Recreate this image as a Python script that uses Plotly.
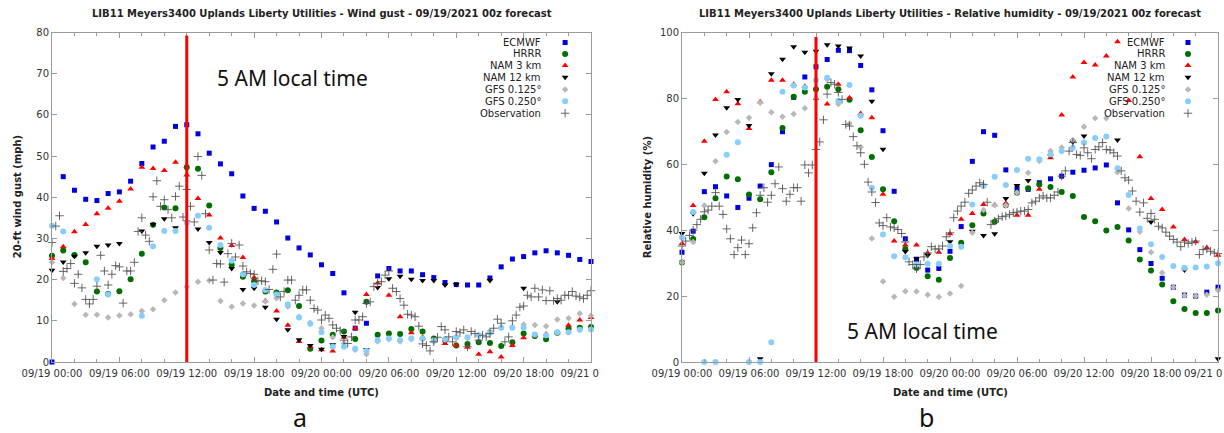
import plotly.graph_objects as go
import pandas as pd

# ---------------- data ----------------
start = "2021-09-19 00:00"
model_names = ["ECMWF", "HRRR", "NAM 3 km", "NAM 12 km", "GFS 0.125°", "GFS 0.250°"]

gust_ecmwf = [0, 45.0, 41.7, 39.5, 39.2, 40.9, 41.3, 43.9, 48.2, 52.2, 53.6, 57.2, 57.6, 55.4, 50.7, 48.1, 45.7,
              40.3, 37.3, 36.6, 34.0, 30.1, 27.7, 26.0, 23.6, 21.5, 16.8, 8.2, 9.4, 20.9, 22.7, 22.1, 22.1,
              21.2, 20.5, 19.3, 18.8, 18.7, 18.7, 20.4, 23.1, 25.0, 25.6, 26.5, 27.0, 26.5, 25.9, 24.9, 24.4]
gust_hrrr = [25.8, 27.1, 26.0, 24.2, 17.1, 16.5, 17.2, 20.1, 26.3, 33.3, 37.5, 37.3, 47.3, 46.9, 38.0, 27.7, 23.6,
             20.7, 19.6, 17.1, 16.9, 17.4, 13.6, 3.2, 5.2, 6.6, 7.4, 5.6, 14.6, 6.6, 6.9, 6.8, 8.0,
             7.4, 5.7, 5.3, 4.0, 4.4, 4.8, 4.6, 3.9, 4.8, 6.9, 6.3, 5.5, 7.1, 8.1, 8.3, 8.5]
gust_nam3 = [25.1, 28.0, 31.6, 33.4, 36.0, 37.3, 39.0, 42.0, 47.3, 47.0, 46.5, 48.5, 45.4, 39.7, 35.7, 30.1, 28.3,
             25.4, 20.5, 14.9, 12.4, 8.9, 5.0, 3.7, 3.0, 2.7, 6.0, 8.2, 16.4, 19.2, 16.2, 11.0, 7.1,
             6.0, 5.1, 4.5, 4.0, 3.6, 1.9, 2.5, 1.2, 4.0, 5.9, 6.5, 6.8, 7.1, 8.9, 10.2, 10.8]
gust_nam12 = [22.3, 24.3, 25.7, 26.5, 28.1, 28.4, 28.8, None, 31.8, 33.4, 34.8, 32.6, 34.0, 32.3, 29.0, 26.6, 22.7,
              17.6, 17.9, 13.3, 10.4, 7.8, 5.4, 4.0, 3.1, 4.2, 6.2, 12.1, 3.0, 18.1, 20.2, 20.8, 20.1,
              19.8, 19.8, 18.7, 18.8, None, None, 19.8, None, None, 17.9, None, None, 14.6, None, None, None]
gust_gfs0125 = [24.2, 20.4, 14.1, 11.5, 11.5, 10.8, 11.3, 11.6, 12.4, 12.8, 15.0, 16.9, 18.3, 19.5, 19.8, 14.8, 13.4,
                14.2, 13.7, 14.7, 15.5, 13.5, 11.0, 9.5, 8.2, 6.0, 4.5, 3.0, 1.9, 5.0, 5.5, 5.0, 5.5,
                5.5, 5.0, 5.5, 5.8, 5.8, 6.5, 7.5, 8.3, 8.5, 9.1, 9.0, 8.7, 10.3, 10.6, 11.8, 11.2]
gust_gfs0250 = [33.1, 31.7, None, None, 20.1, 16.4, None, None, 11.2, 28.1, 31.8, 31.8, 33.8, 35.5, 32.6, 28.4, 24.6,
                21.3, 18.7, 17.5, 16.4, 14.0, 10.8, 9.3, 7.2, 3.7, 3.7, 3.2, 2.7, 5.3, 5.7, 5.3, 5.7,
                5.7, 5.3, 5.5, 6.0, 6.0, 6.5, 7.1, 8.3, 8.3, 8.3, 6.7, 6.5, 7.2, 7.2, 7.8, 7.9]
gust_obs = [29.0, 33.0, 35.5, 22.0, 22.7, 23.9, 19.1, 21.3, 18.0, 15.2, 14.1, 15.2, 18.4, 25.9, 22.1,
            18.7, 21.3, 23.4, 23.1, 14.3, 22.1, 22.1, 24.2, 31.7, 35.0, 30.8, 29.3, 40.1, 44.0, 37.8,
            39.4, 37.0, 35.0, 40.2, 42.7, 35.2, 41.9, 37.8, 34.0, 49.9, 45.3, 36.0, 27.2, 19.9, 23.9,
            23.8, 19.4, 26.3, 28.8, 25.5, 28.4, 23.3, 21.9, 21.5, 21.3, 19.7, 19.7, 19.5, 17.6, 22.5,
            26.2, 15.8, 17.1, 19.9, 19.9, 15.0, 16.2, 17.5, 17.5, 15.0, 13.0, 12.6, 10.2, 11.4, 10.6,
            9.0, 8.2, 7.6, 5.3, 4.5, 6.1, 10.2, 10.2, 11.0, 14.2, 14.6, 18.3, 19.1, 19.5, 21.1,
            22.1, 17.9, 17.1, 15.4, 13.8, 11.6, 11.4, 11.0, 8.7, 4.4, 4.0, 2.7, 4.9, 6.0, 8.6,
            7.8, 6.1, 4.9, 7.4, 7.1, 7.8, 3.7, 7.4, 6.9, 5.3, 6.5, 6.1, 6.9, 8.2, 10.4,
            9.4, 4.9, 6.1, 10.0, 11.4, 13.3, 13.6, 16.2, 15.8, 17.9, 15.8, 17.5, 14.9, 17.3, 14.9,
            15.4, 15.0, 16.2, 16.2, 17.1, 16.0, 15.8, 15.4, 16.2, 17.3]

rh_ecmwf = [33.3, 39.7, 51.7, 53.2, 50.4, 46.9, 49.7, 53.4, 59.9, 69.9, 80.3, 86.5, 89.6, 91.8, 94.6, 94.5, 90.0,
            82.6, 70.2, 51.8, 37.4, 31.2, 27.9, 28.4, 33.6, 41.1, 60.9, 69.9, 68.8, 58.3, 52.7, 52.4, 54.4,
            55.6, 56.4, 57.6, 58.2, 58.9, 59.8, 48.3, 40.1, 34.1, 29.9, 25.4, 22.7, 20.3, 20.0, 21.2, 22.7]
rh_hrrr = [30.2, 37.3, 43.9, 49.7, 56.3, 55.5, 50.8, 49.4, 57.6, 71.0, 80.5, 82.0, 82.8, 83.5, 82.8, 79.6, 70.3,
           62.2, 52.4, 42.7, 34.3, 28.5, 26.0, 25.0, 31.6, 36.2, 41.5, 45.1, 42.6, 47.6, 51.4, 52.7, 53.9,
           53.1, 51.6, 50.4, 44.0, 42.7, 39.9, 41.0, 36.9, 31.1, 27.8, 23.5, 18.4, 16.1, 14.9, 14.9, 15.6]
rh_nam3 = [36.0, 47.5, 67.0, 79.7, 82.0, 78.4, 70.9, 79.0, 85.5, 85.5, 84.3, 83.7, 80.0, 78.3, 84.3, 80.2, 75.4,
           74.1, 50.9, 36.7, 35.5, 35.5, 33.1, 33.3, 38.9, 43.3, 45.1, 47.8, 47.7, 48.1, 44.5, 44.5, 52.4,
           62.0, 75.0, 86.5, 90.9, 90.1, 92.9, 97.2, 79.4, 62.3, 49.6, 46.3, 41.0, 37.2, 36.5, 34.7, 32.4]
rh_nam12 = [39.0, 45.0, 57.3, 68.9, 77.2, 79.7, 71.8, 1.0, 87.5, 91.9, 95.7, 94.0, 94.3, 96.3, 95.9, 95.3, 92.9,
            79.1, 64.6, None, 33.5, 31.3, 32.4, None, 36.5, None, 39.7, 38.4, 38.9, 49.6, 53.6, 55.1, None,
            62.5, None, 66.8, 68.6, None, None, 67.4, None, None, 42.5, None, None, 27.9, None, None, 1.0]
rh_gfs0125 = [30.2, 36.4, 47.5, 60.9, 69.8, 72.8, 74.1, 78.7, 75.8, 74.4, 75.3, 77.0, 80.0, 85.8, 78.3, 72.4, 65.2,
              37.5, 24.4, 19.8, 21.5, 21.4, 20.4, 19.7, 20.8, 23.1, 39.2, 46.1, 47.6, 47.5, 51.4, 57.4, 61.0,
              64.0, 65.1, 67.4, 71.4, 74.0, 74.0, 57.6, 46.6, 39.5, 33.3, 27.1, 22.7, 20.2, 20.0, 20.4, 21.8]
rh_gfs0250 = [37.7, 45.5, 0, 0, 62.9, 66.7, 0, 0, 6.0, 82.0, 83.9, 83.3, 85.5, 86.3, 79.2, 84.1, 74.7,
              52.9, 38.7, 32.1, 31.8, 29.6, 29.8, 29.8, 35.2, 35.0, 47.8, 53.4, 56.2, 53.7, 58.3, 61.7, 61.5,
              63.0, 64.0, 65.0, 66.6, 68.0, 68.4, 58.8, 50.7, 40.5, 35.7, 31.9, 29.1, 28.6, 28.7, 29.0, 30.0]
rh_obs = [35.2, 36.7, 38.4, 40.0, 41.7, 43.3, 45.6, 46.1, 47.3, 51.4, 47.3, 44.8, 40.4, 37.4, 32.6,
          34.7, 37.0, 32.6, 35.9, 40.7, 45.3, 50.6, 52.9, 48.5, 50.6, 54.1, 59.2, 52.6, 48.8, 50.9,
          52.9, 52.9, 48.8, 59.8, 57.4, 59.8, 64.5, 66.8, 73.5, 81.3, 84.8, 84.3, 81.8, 79.7, 72.1,
          71.6, 68.4, 65.6, 63.5, 60.0, 54.6, 51.6, 48.4, 42.2, 41.4, 43.8, 41.0, 40.7, 40.2, 39.0,
          36.4, 30.4, 29.6, 28.3, 29.6, 31.9, 33.1, 35.0, 34.3, 34.3, 35.2, 38.0, 39.2, 43.8, 45.8,
          47.3, 48.5, 51.2, 52.2, 53.4, 54.4, 53.9, 48.5, 41.7, 42.8, 43.5, 44.1, 44.3, 44.8, 45.3,
          45.5, 45.8, 45.8, 46.3, 48.3, 48.8, 49.8, 50.4, 49.8, 49.8, 50.6, 51.6, 56.4, 58.0, 64.0,
          66.6, 63.0, 62.7, 65.0, 63.5, 61.7, 64.5, 65.3, 66.6, 64.5, 64.3, 63.5, 62.5, 58.0, 55.9,
          55.2, 51.9, 48.8, 45.5, 48.3, 43.6, 45.1, 43.3, 41.2, 40.7, 39.4, 38.2, 37.2, 36.4, 35.0,
          36.4, 36.0, 36.4, 36.7, 32.6, 34.1, 34.3, 33.6, 33.1, 32.9]

tick_times = ["2021-09-19 00:00", "2021-09-19 06:00", "2021-09-19 12:00", "2021-09-19 18:00",
              "2021-09-20 00:00", "2021-09-20 06:00", "2021-09-20 12:00", "2021-09-20 18:00",
              "2021-09-21 00:00"]
tick_labels = ["09/19 00:00", "09/19 06:00", "09/19 12:00", "09/19 18:00", "09/20 00:00",
               "09/20 06:00", "09/20 12:00", "09/20 18:00", "09/21 0"]
local5am = "2021-09-19 12:00"

t_model = pd.date_range(start, periods=len(gust_ecmwf), freq="h")
t_obs_g = pd.date_range(start, periods=len(gust_obs), freq="20min")
t_obs_r = pd.date_range(start, periods=len(rh_obs), freq="20min")

# ---------------- styles ----------------
FONT = "DejaVu Sans"
styles = {
    "ECMWF": dict(symbol="square", color="#0000e0", size=5),
    "HRRR": dict(symbol="circle", color="#006f00", size=6),
    "NAM 3 km": dict(symbol="triangle-up", color="#ff0000", size=6),
    "NAM 12 km": dict(symbol="triangle-down", color="#000000", size=6),
    "GFS 0.125°": dict(symbol="diamond", color="#b8b8b8", size=5),
    "GFS 0.250°": dict(symbol="circle", color="#87cefa", size=6),
    "Observation": dict(symbol="cross-thin", size=6, line=dict(color="#555555", width=0.9)),
}
legend_order = model_names + ["Observation"]

fig = go.Figure()

def add_series(xs, ys, name, xa, ya):
    fig.add_trace(go.Scatter(x=xs, y=ys, mode="markers", name=name, marker=styles[name],
                             xaxis=xa, yaxis=ya, cliponaxis=False, showlegend=False))

for name, vals in zip(model_names, [gust_ecmwf, gust_hrrr, gust_nam3, gust_nam12, gust_gfs0125, gust_gfs0250]):
    add_series(t_model, vals, name, "x", "y")
add_series(t_obs_g, gust_obs, "Observation", "x", "y")

for name, vals in zip(model_names, [rh_ecmwf, rh_hrrr, rh_nam3, rh_nam12, rh_gfs0125, rh_gfs0250]):
    add_series(t_model, vals, name, "x2", "y2")
add_series(t_obs_r, rh_obs, "Observation", "x2", "y2")

# legend keys (drawn on overlay axes spanning [0,1] of each plot area)
leg_rows = [0.970, 0.935, 0.900, 0.864, 0.827, 0.791, 0.755]
annotations = []
for (xa, ya, mx, tx, dref) in [("x3", "y3", 0.952, 0.911, ("x domain", "y domain")),
                               ("x4", "y4", 0.944, 0.905, ("x2 domain", "y2 domain"))]:
    for name, ry in zip(legend_order, leg_rows):
        fig.add_trace(go.Scatter(x=[mx], y=[ry], mode="markers", marker=styles[name],
                                 xaxis=xa, yaxis=ya, showlegend=False, hoverinfo="skip"))
        annotations.append(dict(xref=dref[0], yref=dref[1], x=tx, y=ry, text=name, showarrow=False,
                                xanchor="right", yanchor="middle",
                                font=dict(family=FONT, size=10, color="#222")))

LX = [52 / 1224, 591 / 1224]
RX = [682 / 1224, 1218 / 1224]
YD = [1 - 362 / 433, 1 - 32.5 / 433]

hidden_tail = "<span style='color:rgba(0,0,0,0)'>0:00</span>"
ticktext_left = tick_labels[:-1] + [tick_labels[-1] + hidden_tail]
ticktext_right = tick_labels[:-1] + [""]   # last label of the right panel is cut by the image edge

def xaxis(domain, anchor, ticktext):
    return dict(domain=domain, anchor=anchor, type="date", automargin=False,
                range=[tick_times[0], tick_times[-1]],
                tickmode="array", tickvals=tick_times, ticktext=ticktext,
                ticklabeloverflow="allow", ticklabelstandoff=2,
                ticks="inside", ticklen=5, tickcolor="#9a9a9a",
                minor=dict(dtick=2 * 3600 * 1000, tick0=tick_times[0], ticks="inside", ticklen=3,
                           tickcolor="#9a9a9a"),
                showline=True, linecolor="#9a9a9a", linewidth=1, mirror="allticks",
                showgrid=False, zeroline=False,
                tickfont=dict(family=FONT, size=10, color="#333"))

def yaxis(domain, anchor, top, dt):
    return dict(domain=domain, anchor=anchor, range=[0, top], dtick=dt, automargin=False,
                ticks="inside", ticklen=5, tickcolor="#9a9a9a",
                showline=True, linecolor="#9a9a9a", linewidth=1, mirror="allticks",
                showgrid=False, zeroline=False,
                tickfont=dict(family=FONT, size=10, color="#333"))

ov = dict(range=[0, 1], visible=False, fixedrange=True, automargin=False)

# right panel's clipped last tick label, kept inside the picture
annotations.append(dict(xref="paper", yref="paper", x=1.0, y=1 - 373 / 433, text=tick_labels[-1],
                        showarrow=False, xanchor="right", yanchor="middle",
                        font=dict(family=FONT, size=10, color="#333")))

titles = [
    (sum(LX) / 2, "LIB11 Meyers3400 Uplands Liberty Utilities - Wind gust - 09/19/2021 00z forecast"),
    (sum(RX) / 2, "LIB11 Meyers3400 Uplands Liberty Utilities - Relative humidity - 09/19/2021 00z forecast"),
]
for cx, txt in titles:
    annotations.append(dict(xref="paper", yref="paper", x=cx, y=1 - 14 / 433, text="<b>%s</b>" % txt,
                            showarrow=False, xanchor="center", yanchor="middle",
                            font=dict(family=FONT, size=10, color="#222")))
for cx in [sum(LX) / 2, sum(RX) / 2]:
    annotations.append(dict(xref="paper", yref="paper", x=cx, y=1 - 392 / 433,
                            text="<b>Date and time (UTC)</b>", showarrow=False,
                            xanchor="center", yanchor="middle",
                            font=dict(family=FONT, size=10, color="#222")))
for px, txt in [(17, "20-ft wind gust (mph)"), (647, "Relative humidity (%)")]:
    annotations.append(dict(xref="paper", yref="paper", x=px / 1224, y=sum(YD) / 2,
                            text="<b>%s</b>" % txt, textangle=-90, showarrow=False,
                            xanchor="center", yanchor="middle",
                            font=dict(family=FONT, size=10, color="#222")))
for px, py in [(292, 78), (922, 331)]:
    annotations.append(dict(xref="paper", yref="paper", x=px / 1224, y=1 - py / 433,
                            text="5 AM local time", showarrow=False, xanchor="center", yanchor="middle",
                            font=dict(family="Noto Sans", size=21, color="#111")))
for px, txt in [(300, "a"), (926, "b")]:
    annotations.append(dict(xref="paper", yref="paper", x=px / 1224, y=1 - 417 / 433,
                            text=txt, showarrow=False, xanchor="center", yanchor="middle",
                            font=dict(family="Noto Sans", size=25, color="#111")))

shapes = [
    dict(type="line", xref="x", yref="y", x0=local5am, x1=local5am, y0=0, y1=79.3,
         line=dict(color="#ff0000", width=3), layer="above"),
    dict(type="line", xref="x2", yref="y2", x0=local5am, x1=local5am, y0=0, y1=98.6,
         line=dict(color="#ff0000", width=3), layer="above"),
]

fig.update_layout(
    width=1224, height=433, margin=dict(l=0, r=0, t=0, b=0, autoexpand=False),
    paper_bgcolor="white", plot_bgcolor="white", showlegend=False,
    xaxis=xaxis(LX, "y", ticktext_left), yaxis=yaxis(YD, "x", 80, 10),
    xaxis2=xaxis(RX, "y2", ticktext_right), yaxis2=yaxis(YD, "x2", 100, 20),
    xaxis3=dict(overlaying="x", anchor="y3", **ov), yaxis3=dict(overlaying="y", anchor="x3", **ov),
    xaxis4=dict(overlaying="x2", anchor="y4", **ov), yaxis4=dict(overlaying="y2", anchor="x4", **ov),
    annotations=annotations, shapes=shapes,
)

fig.write_html("out.html", config={"displayModeBar": False},
               post_script="document.body.style.margin='0px';document.body.style.overflow='hidden';")
